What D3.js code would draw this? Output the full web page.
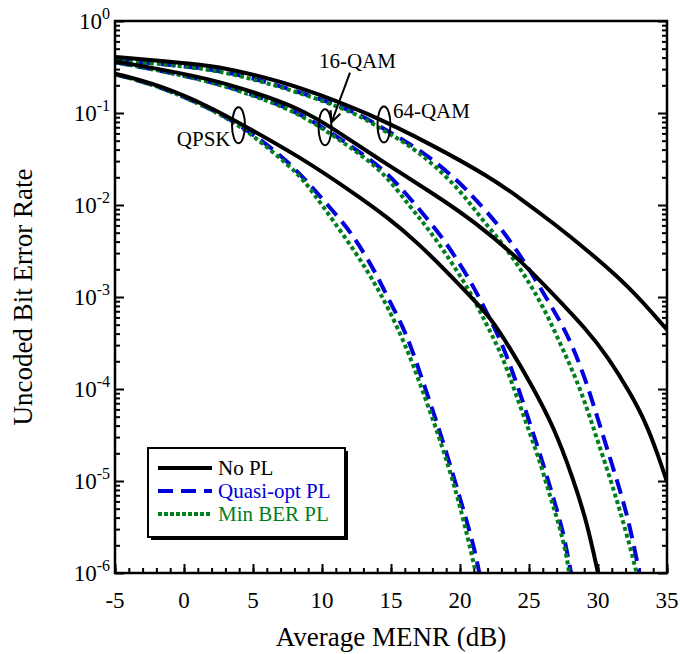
<!DOCTYPE html>
<html>
<head>
<meta charset="utf-8">
<script src="https://cdn.jsdelivr.net/npm/d3@7"></script>
<style>
  body { margin: 0; background: #fff; }
  text { font-family: "Liberation Serif", "Times New Roman", serif; fill: #000; }
</style>
</head>
<body>
<div id="chart"></div>
<script>
// values: [average MENR (dB), uncoded BER]
const qpskNoPL = [[-5, 2.68e-1], [-1.7, 2.0e-1], [1.9, 1.16e-1], [4.1, 7.67e-2], [8.4, 3.33e-2], [12, 1.45e-2],
  [14.9, 7.08e-3], [17, 3.8e-3], [19, 1.91e-3], [20.8, 1.0e-3], [22.2, 6.0e-4], [23.6, 2.82e-4], [25.1, 1.17e-4],
  [26.8, 3.9e-5], [28.2, 1.06e-5], [29.2, 3.55e-6], [30, 1.0e-6]];
const qpskQuasi = [[-5, 2.63e-1], [-1.7, 1.95e-1], [1.9, 1.12e-1], [4.1, 7.41e-2], [7.7, 2.95e-2], [10.3, 1.04e-2],
  [11.8, 5.8e-3], [13, 3.1e-3], [14, 1.7e-3], [14.8, 9.6e-4], [15.8, 5.0e-4], [16.5, 2.75e-4], [17.2, 1.35e-4],
  [17.7, 8.2e-5], [18.9, 2.35e-5], [20, 6.5e-6], [21, 2.0e-6], [21.4, 1.0e-6]];
const qpskMinBer = [[-5, 2.63e-1], [-1.7, 1.95e-1], [1.9, 1.11e-1], [4.1, 7.24e-2], [6.5, 3.72e-2], [8.4, 2.1e-2],
  [9.4, 1.33e-2], [10.8, 6.8e-3], [12.5, 2.95e-3], [13.7, 1.52e-3], [14.8, 7.6e-4], [16.1, 2.9e-4], [17.2, 1.05e-4],
  [18.7, 2.45e-5], [19.8, 7.0e-6], [20.6, 2.3e-6], [21.15, 1.0e-6]];

const qam16NoPL = [[-5, 3.63e-1], [-2, 3.05e-1], [2, 2.32e-1], [5, 1.7e-1], [8.4, 1.12e-1], [10.8, 6.8e-2], [14.4, 2.95e-2],
  [18, 1.35e-2], [21, 6.7e-3], [24.4, 2.5e-3], [26.5, 1.17e-3], [29.2, 4.4e-4], [30.7, 2.24e-4], [32.3, 9.3e-5],
  [33.5, 4.2e-5], [34.3, 2.0e-5], [35, 9.8e-6]];
const qam16Quasi = [[-5, 3.55e-1], [-2, 2.95e-1], [2, 2.2e-1], [5, 1.58e-1], [8.4, 1.02e-1], [12, 4.5e-2], [14.4, 2.5e-2],
  [16, 1.38e-2], [17.3, 8.1e-3], [18.7, 4.5e-3], [19.9, 2.4e-3], [21, 1.29e-3], [21.9, 6.9e-4], [22.8, 3.8e-4],
  [23.5, 2.05e-4], [24.2, 1.05e-4], [24.8, 5.6e-5], [25.3, 3.3e-5], [25.9, 1.75e-5], [26.5, 8.9e-6], [26.9, 5.6e-6],
  [27.5, 2.7e-6], [27.9, 1.3e-6], [28.05, 1.0e-6]];
const qam16MinBer = [[-5, 3.55e-1], [-2, 2.95e-1], [2, 2.18e-1], [5, 1.55e-1], [8.4, 1.0e-1], [12, 4.3e-2], [14.4, 2.35e-2],
  [16.4, 9.5e-3], [17.8, 5.3e-3], [19.3, 2.5e-3], [20.7, 1.17e-3], [21.9, 5.1e-4], [22.9, 2.6e-4], [23.7, 1.24e-4],
  [25, 3.5e-5], [25.8, 1.62e-5], [26.5, 7.0e-6], [27.2, 3.3e-6], [27.75, 1.5e-6], [27.9, 1.0e-6]];

const qam64NoPL = [[-5, 4.07e-1], [-2, 3.72e-1], [2, 3.3e-1], [5, 2.63e-1], [8.4, 1.92e-1], [13.2, 1.02e-1], [18, 4.5e-2],
  [22.2, 2.0e-2], [24.4, 1.17e-2], [26.8, 6.3e-3], [29.2, 3.24e-3], [32.3, 1.29e-3], [35, 4.4e-4]];
const qam64Quasi = [[-5, 3.72e-1], [-2, 3.47e-1], [2, 3.0e-1], [5, 2.4e-1], [8.4, 1.69e-1], [12.5, 1.03e-1], [14.4, 6.8e-2],
  [16, 5.0e-2], [18, 3.16e-2], [20, 1.74e-2], [21.2, 1.12e-2], [22.7, 6.3e-3], [24, 3.4e-3], [25.2, 1.8e-3],
  [26.3, 9.55e-4], [27.4, 5.01e-4], [28.2, 2.82e-4], [29.1, 1.26e-4], [29.9, 5.25e-5], [30.6, 2.4e-5],
  [31.6, 7.94e-6], [32.3, 3.31e-6], [33, 1.0e-6]];
const qam64MinBer = [[-5, 3.72e-1], [-2, 3.47e-1], [2, 2.98e-1], [5, 2.34e-1], [8.4, 1.66e-1], [12.5, 1.0e-1], [14.4, 6.5e-2],
  [16, 4.8e-2], [18, 2.85e-2], [20, 1.45e-2], [21.45, 7.4e-3], [23.1, 3.8e-3], [24.5, 1.9e-3], [25.55, 1.05e-3],
  [26.5, 5.6e-4], [27.5, 2.6e-4], [28.45, 1.26e-4], [29.3, 5.6e-5], [30, 2.65e-5], [30.9, 1.05e-5], [31.6, 4.7e-6],
  [32.3, 2.0e-6], [32.8, 1.0e-6]];

const xTicks = [-5, 0, 5, 10, 15, 20, 25, 30, 35];
const yDecades = [1e-6, 1e-5, 1e-4, 1e-3, 1e-2, 1e-1, 1];
const legendNames = ["No PL", "Quasi-opt PL", "Min BER PL"];
const legendColors = ["#000000", "#0000dd", "#007f1f"];

// set the dimensions and margins of the graph
var margin = {top: 21, right: 13, bottom: 81, left: 115},
    width = 680 - margin.left - margin.right,
    height = 654 - margin.top - margin.bottom;

const svg = d3.select("#chart").append("svg")
    .attr("width", 680)
    .attr("height", 654)
  .append("g")
    .attr("transform", "translate(" + margin.left + "," + margin.top + ")");

var x = d3.scaleLinear().domain([-5, 35]).range([0, width]);
var y = d3.scaleLog().domain([1e-6, 1]).range([height, 0]);

svg.append("clipPath").attr("id", "clip")
  .append("rect").attr("width", width).attr("height", height);

// minor ticks
var minorY = [];
yDecades.slice(0, -1).forEach(function(d) {
  for (var k = 2; k <= 9; k++) minorY.push(d * k);
});
var minorX = d3.range(-5, 36, 1);

function styleAxis(g) {
  g.select(".domain").remove();
  g.selectAll("line").attr("stroke", "#000").attr("stroke-width", 2);
  g.selectAll("text").remove();
}

svg.append("g").call(d3.axisLeft(y).tickValues(yDecades).tickSize(-9)).call(styleAxis);
svg.append("g").call(d3.axisLeft(y).tickValues(minorY).tickSize(-5)).call(styleAxis);
svg.append("g").attr("transform", "translate(" + width + ",0)")
  .call(d3.axisRight(y).tickValues(yDecades).tickSize(-9)).call(styleAxis);
svg.append("g").attr("transform", "translate(" + width + ",0)")
  .call(d3.axisRight(y).tickValues(minorY).tickSize(-5)).call(styleAxis);
svg.append("g").attr("transform", "translate(0," + height + ")")
  .call(d3.axisBottom(x).tickValues(xTicks).tickSize(-9)).call(styleAxis);
svg.append("g").attr("transform", "translate(0," + height + ")")
  .call(d3.axisBottom(x).tickValues(minorX).tickSize(-5)).call(styleAxis);

// tick labels
svg.selectAll(".xlab").data(xTicks).enter().append("text")
  .attr("x", function(d) { return x(d); })
  .attr("y", height + 35)
  .attr("text-anchor", "middle")
  .style("font-size", "23px")
  .text(function(d) { return d; });

var ylab = svg.selectAll(".ylab").data(yDecades).enter().append("text")
  .attr("x", -5)
  .attr("y", function(d) { return y(d) + 8; })
  .attr("text-anchor", "end")
  .style("font-size", "23px");
ylab.append("tspan").text("10");
ylab.append("tspan")
  .attr("dy", -10)
  .style("font-size", "16px")
  .text(function(d) { return Math.round(Math.log10(d)); });

// curves
var line = d3.line()
  .x(function(d) { return x(d[0]); })
  .y(function(d) { return y(d[1]); })
  .curve(d3.curveBasis);

var plot = svg.append("g").attr("clip-path", "url(#clip)");

[qpskQuasi, qam16Quasi, qam64Quasi].forEach(function(s) {
  plot.append("path").datum(s).attr("d", line)
    .attr("fill", "none").attr("stroke", legendColors[1])
    .attr("stroke-width", 4).attr("stroke-dasharray", "15,8");
});
[qpskMinBer, qam16MinBer, qam64MinBer].forEach(function(s) {
  plot.append("path").datum(s).attr("d", line)
    .attr("fill", "none").attr("stroke", legendColors[2])
    .attr("stroke-width", 4).attr("stroke-dasharray", "4,3");
});
[qpskNoPL, qam16NoPL, qam64NoPL].forEach(function(s) {
  plot.append("path").datum(s).attr("d", line)
    .attr("fill", "none").attr("stroke", legendColors[0])
    .attr("stroke-width", 4);
});

// frame
svg.append("rect")
  .attr("width", width).attr("height", height)
  .attr("fill", "none").attr("stroke", "#000").attr("stroke-width", 2.5);

// annotations (ellipses round the curve groups)
function ring(xv, yv) {
  svg.append("ellipse")
    .attr("cx", x(xv)).attr("cy", y(yv))
    .attr("rx", 6.5).attr("ry", 18)
    .attr("fill", "none").attr("stroke", "#000").attr("stroke-width", 2);
}
ring(3.95, 7.35e-2);
ring(10.22, 7.0e-2);
ring(14.49, 7.5e-2);

svg.append("text").attr("x", x(3.95) - 8).attr("y", y(7.35e-2) + 21)
  .attr("text-anchor", "end").style("font-size", "21px").text("QPSK");
svg.append("text").attr("x", x(9.78)).attr("y", y(0.308))
  .style("font-size", "21px").text("16-QAM");
svg.append("text").attr("x", x(15.14)).attr("y", y(0.0883))
  .style("font-size", "21px").text("64-QAM");

// arrow from 16-QAM label into its ellipse
var ax0 = x(12.03), ay0 = y(0.275), ax1 = x(10.7), ay1 = y(0.0798);
var ang = Math.atan2(ay1 - ay0, ax1 - ax0);
svg.append("line").attr("x1", ax0).attr("y1", ay0).attr("x2", ax1).attr("y2", ay1)
  .attr("stroke", "#000").attr("stroke-width", 2);
svg.append("path")
  .attr("d", "M" + (ax1 - 12 * Math.cos(ang - 0.45)) + "," + (ay1 - 12 * Math.sin(ang - 0.45)) +
    "L" + ax1 + "," + ay1 +
    "L" + (ax1 - 12 * Math.cos(ang + 0.45)) + "," + (ay1 - 12 * Math.sin(ang + 0.45)))
  .attr("fill", "none").attr("stroke", "#000").attr("stroke-width", 2);

// legend
var lg = svg.append("g").attr("transform", "translate(33,427)");
lg.append("rect").attr("x", 3).attr("y", 3).attr("width", 197).attr("height", 89).attr("fill", "#000");
lg.append("rect").attr("width", 197).attr("height", 89)
  .attr("fill", "#fff").attr("stroke", "#000").attr("stroke-width", 2);
var dashes = [null, "15,8", "4,2"];
legendNames.forEach(function(name, i) {
  var yy = 20 + i * 23;
  lg.append("line").attr("x1", 10).attr("x2", 64).attr("y1", yy).attr("y2", yy)
    .attr("stroke", legendColors[i]).attr("stroke-width", 4)
    .attr("stroke-dasharray", dashes[i]);
  lg.append("text").attr("x", 70).attr("y", yy + 7)
    .style("font-size", "21px").style("fill", legendColors[i]).text(name);
});

// axis titles
svg.append("text")
  .attr("x", width / 2).attr("y", height + 73)
  .attr("text-anchor", "middle").style("font-size", "27px")
  .text("Average MENR (dB)");
svg.append("text")
  .attr("transform", "rotate(-90)")
  .attr("x", -height / 2).attr("y", -83)
  .attr("text-anchor", "middle").style("font-size", "27px")
  .text("Uncoded Bit Error Rate");
</script>
</body>
</html>
